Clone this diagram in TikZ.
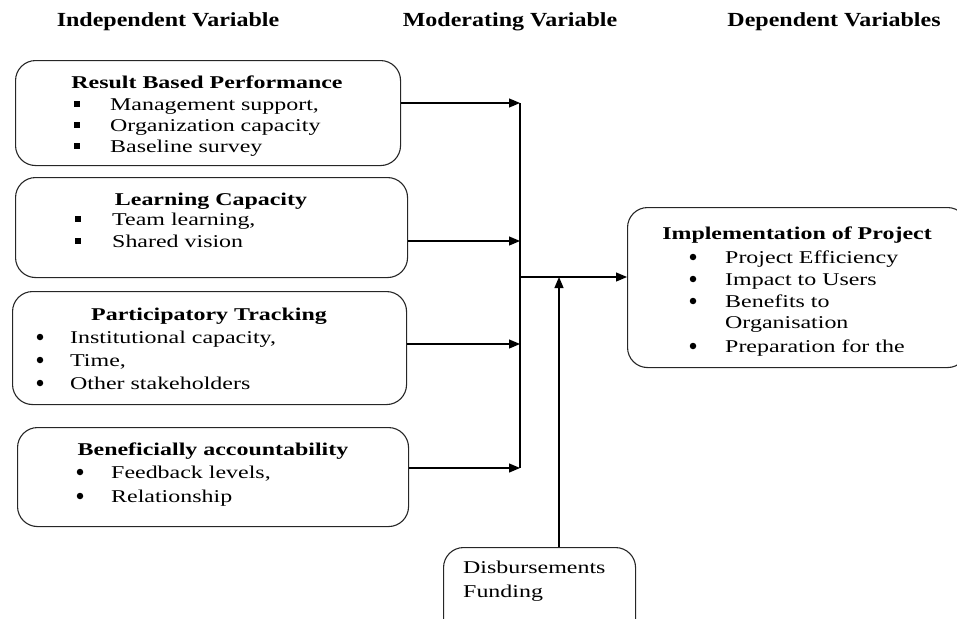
\documentclass[tikz,border=0pt]{standalone}
\usepackage{fontspec}
\setmainfont[FakeStretch=1.33]{Liberation Serif}
\newfontfamily\hdrfont[FakeStretch=1.2]{Liberation Serif}
\usetikzlibrary{arrows.meta}
\begin{document}
\begin{tikzpicture}[x=1pt,y=-1pt,
  every node/.style={font=\fontsize{18}{22}\selectfont},
  box/.style={draw=black!85, line width=1.1pt, rounded corners=20pt, anchor=north west, inner sep=0pt},
  hdr/.style={anchor=base, inner sep=0pt, font=\hdrfont\fontsize{20}{24}\selectfont\bfseries},
  ttl/.style={anchor=base, inner sep=0pt, font=\fontsize{18}{22}\selectfont\bfseries},
  itm/.style={anchor=base west, inner sep=0pt},
  sq/.style={fill=black, inner sep=0pt, minimum size=6.5pt, shape=rectangle},
  dot/.style={fill=black, inner sep=0pt, minimum size=6.5pt, shape=circle},
  arr/.style={line width=1.2pt, -{Triangle[length=11pt,width=9pt]}},
  ln/.style={line width=1.2pt}]
\useasboundingbox (0,0) rectangle (957,618);
\clip (0,0) rectangle (957,618);
% headers
\node[hdr] (h1) at (168,27) {Independent Variable};
\node[hdr] (h2) at (510,27) {Moderating Variable};
\node[hdr] (h3) at (834,27) {Dependent Variables};
% boxes
\node[box, minimum width=385pt, minimum height=105pt] (b1) at (15,60) {};
\node[box, minimum width=392pt, minimum height=100pt] (b2) at (15,177) {};
\node[box, minimum width=394pt, minimum height=113pt] (b3) at (12,291) {};
\node[box, minimum width=391pt, minimum height=99pt] (b4) at (17,427) {};
\node[box, minimum width=340pt, minimum height=160pt] (dep) at (627,207) {};
\node[box, minimum width=192pt, minimum height=95pt] (mod) at (443,547) {};
% box 1
\node[ttl] (t1) at (207,88) {Result Based Performance};
\node[sq] (s11) at (77,104) {}; \node[itm] (i11) at (110,110) {Management support,};
\node[sq] (s12) at (77,125) {}; \node[itm] (i12) at (110,131) {Organization capacity};
\node[sq] (s13) at (77,146) {}; \node[itm] (i13) at (110,152) {Baseline survey};
% box 2
\node[ttl] (t2) at (211,205) {Learning Capacity};
\node[sq] (s21) at (78,219) {}; \node[itm] (i21) at (112,225) {Team learning,};
\node[sq] (s22) at (78,241) {}; \node[itm] (i22) at (112,247) {Shared vision};
% box 3
\node[ttl] (t3) at (209,320) {Participatory Tracking};
\node[dot] (s31) at (40,337) {}; \node[itm] (i31) at (70,343) {Institutional capacity,};
\node[dot] (s32) at (40,360) {}; \node[itm] (i32) at (70,366) {Time,};
\node[dot] (s33) at (40,383) {}; \node[itm] (i33) at (70,389) {Other stakeholders};
% box 4
\node[ttl] (t4) at (213,455) {Beneficially accountability};
\node[dot] (s41) at (80,472) {}; \node[itm] (i41) at (111,478) {Feedback levels,};
\node[dot] (s42) at (80,496) {}; \node[itm] (i42) at (111,502) {Relationship};
% dependent box
\node[ttl] (t5) at (797,239) {Implementation of Project};
\node[dot] (s51) at (693,257) {}; \node[itm] (i51) at (725,263) {Project Efficiency};
\node[dot] (s52) at (693,279) {}; \node[itm] (i52) at (725,285) {Impact to Users};
\node[dot] (s53) at (693,301) {}; \node[itm] (i53) at (725,307) {Benefits to};
\node[itm] (i54) at (725,328) {Organisation};
\node[dot] (s55) at (693,346) {}; \node[itm] (i55) at (725,352) {Preparation for the};
% moderating box
\node[itm] (m1) at (463,573) {Disbursements};
\node[itm] (m2) at (463,597) {Funding};
% connectors
\coordinate (j1) at (520,103);
\coordinate (j2) at (520,241);
\coordinate (j3) at (520,344);
\coordinate (j4) at (520,468);
\coordinate (jm) at (520,277);
\coordinate (jv) at (559,277);
\draw[ln] (j1) -- (j4);
\draw[arr] (b1.east |- j1) -- (j1);
\draw[arr] (b2.east |- j2) -- (j2);
\draw[arr] (b3.east |- j3) -- (j3);
\draw[arr] (b4.east |- j4) -- (j4);
\draw[arr] (jm) -- (dep.west |- jm);
\draw[arr] (mod.north -| jv) -- (jv);
\end{tikzpicture}
\end{document}
